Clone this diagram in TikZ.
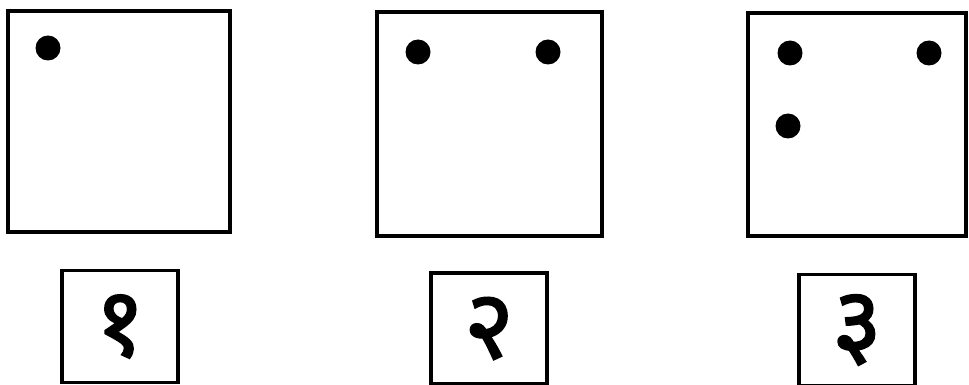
\documentclass[tikz,border=0pt]{standalone}
\usepackage{xcolor}
\usepackage{fontspec}
\usepackage{tikz}
\usetikzlibrary{positioning}
\newfontfamily\devfont[Script=Devanagari, FakeBold=2]{Noto Sans}
\definecolor{ink}{HTML}{000000}
\definecolor{paper}{HTML}{FFFFFF}

\tikzset{
  card/.style={draw=ink, line width=3.5pt, fill=paper, inner sep=0pt,
               minimum width=222pt, minimum height=222pt},
  numbox/.style={draw=ink, line width=3.5pt, inner sep=0pt,
                 minimum width=116pt, minimum height=112pt,
                 font=\devfont\fontsize{96}{96}\selectfont},
  pip/.style={circle, fill=ink, inner sep=0pt, minimum size=25pt}
}

\begin{document}
\begin{tikzpicture}[x=1pt, y=-1pt]
  \useasboundingbox[fill=paper] (0,0) rectangle (969,385);
  % the three cards
  \node[card, minimum width=222pt, minimum height=221pt] (card1) at (119,121.5) {};
  \node[card, minimum width=225pt, minimum height=224pt] (card2) at (489.5,124) {};
  \node[card, minimum width=218pt, minimum height=223pt] (card3) at (857,124.5) {};
  % pips
  \node[pip] (p11) at (48,48) {};
  \node[pip] (p21) at (418,52) {};
  \node[pip] (p22) at (548,52) {};
  \node[pip] (p31) at (790,53) {};
  \node[pip] (p32) at (929,53) {};
  \node[pip] (p33) at (788,126) {};
  % numerals below
  \node[numbox] (num1) at (120,326.5) {१};
  \node[numbox, minimum height=111pt] (num2) at (489,328.5) {२};
  \node[numbox, minimum height=111pt] (num3) at (857,330) {३};
\end{tikzpicture}
\end{document}
